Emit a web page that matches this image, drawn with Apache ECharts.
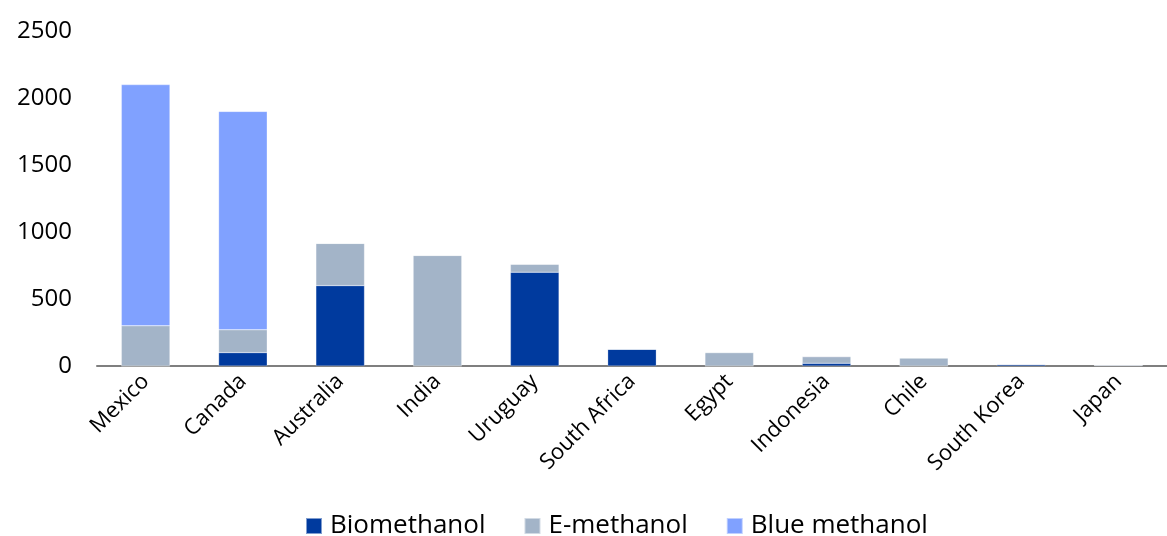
<!DOCTYPE html>
<html>
<head>
<meta charset="utf-8">
<script src="https://cdn.jsdelivr.net/npm/echarts@6/dist/echarts.min.js"></script>
<style>
    html, body {margin: 0; padding: 0; background: #ffffff;}
    #chart {width: 1167px; height: 536px;}
</style>
</head>
<body>
<div id="chart"></div>
<script>
// values
var countries = ['Mexico', 'Canada', 'Australia', 'India', 'Uruguay', 'South Africa', 'Egypt', 'Indonesia', 'Chile', 'South Korea', 'Japan'];
var bioMethanol = [0, 100, 600, 0, 700, 125, 0, 20, 0, 12, 5];
var eMethanol = [300, 170, 315, 825, 60, 0, 100, 50, 60, 0, 0];
var blueMethanol = [1800, 1630, 0, 0, 0, 0, 0, 0, 0, 0, 0];
var yTicks = [0, 500, 1000, 1500, 2000, 2500];

var font = '"Open Sans", Lato, sans-serif';

var myChart = echarts.init(document.getElementById('chart'));

function bar(name, data, color) {
    return {
        name: name,
        type: 'bar',
        stack: 'total',
        barWidth: '50%',
        data: data,
        itemStyle: {color: color, borderColor: 'rgba(255,255,255,0.5)', borderWidth: 0.5}
    }
}

var option = {
    animation: false,
    textStyle: {fontFamily: font},
    grid: {left: 97, right: 0, top: 31, bottom: 170, containLabel: false},
    legend: {
        top: 508,
        left: 300,
        itemWidth: 16,
        itemHeight: 16,
        itemGap: 38,
        icon: 'rect',
        textStyle: {fontSize: 26, color: '#000', fontFamily: font, padding: [0, 0, 0, 3]},
        data: ['Biomethanol', 'E-methanol', 'Blue methanol']
    },
    xAxis: {
        type: 'category',
        data: countries,
        axisLine: {lineStyle: {color: '#7f7f7f', width: 2}},
        axisTick: {show: false},
        axisLabel: {rotate: 45, fontSize: 22, color: '#000', fontFamily: font, margin: 12, interval: 0}
    },
    yAxis: {
        type: 'value',
        min: yTicks[0],
        max: yTicks[yTicks.length - 1],
        interval: 500,
        splitLine: {show: false},
        axisLine: {show: false},
        axisTick: {show: false},
        axisLabel: {fontSize: 24, color: '#000', fontFamily: font, margin: 25, formatter: function (v) { return String(v); }}
    },
    series: [
        bar('Biomethanol', bioMethanol, '#003A9E'),
        bar('E-methanol', eMethanol, '#A3B4C8'),
        bar('Blue methanol', blueMethanol, '#80A1FF')
    ]
};

myChart.setOption(option, true);
</script>
</body>
</html>
